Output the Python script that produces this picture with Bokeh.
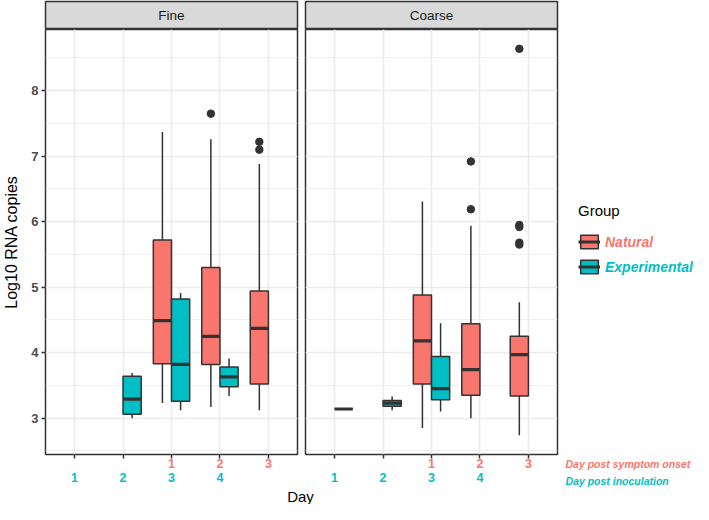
from bokeh.plotting import figure
from bokeh.models import (ColumnDataSource, FixedTicker, LinearAxis, Legend, LegendItem,
                          Label, Range1d)
from bokeh.transform import dodge
from bokeh.layouts import column, row
from bokeh.embed import file_html
from bokeh.resources import INLINE

# ---------------- data ----------------
panels = ["Fine", "Coarse"]
groups = ["Natural", "Experimental"]
x_positions = [1, 2, 3, 4, 5]
inoc_ticks = [1, 2, 3, 4]
inoc_labels = ["1", "2", "3", "4"]
onset_ticks = [3, 4, 5]
onset_labels = ["1", "2", "3"]
row_titles = ["Day post symptom onset", "Day post inoculation"]
y_ticks = [3, 4, 5, 6, 7, 8]
y_minor = [2.5, 3.5, 4.5, 5.5, 6.5, 7.5, 8.5]

# Fine - Natural
fine_nat_pos = [3, 4, 5]
fine_nat_low = [3.23, 3.17, 3.12]
fine_nat_q1 = [3.83, 3.82, 3.52]
fine_nat_med = [4.49, 4.25, 4.37]
fine_nat_q3 = [5.72, 5.30, 4.94]
fine_nat_high = [7.37, 7.26, 6.88]
# Fine - Experimental
fine_exp_pos = [2, 3, 4]
fine_exp_low = [3.00, 3.12, 3.34]
fine_exp_q1 = [3.06, 3.26, 3.48]
fine_exp_med = [3.29, 3.82, 3.63]
fine_exp_q3 = [3.64, 4.82, 3.78]
fine_exp_high = [3.69, 4.91, 3.91]
# Fine outliers (all Natural)
fine_out_pos = [4, 5, 5]
fine_out_val = [7.65, 7.22, 7.10]

# Coarse - Natural
coarse_nat_pos = [3, 4, 5]
coarse_nat_low = [2.85, 3.00, 2.74]
coarse_nat_q1 = [3.52, 3.35, 3.34]
coarse_nat_med = [4.18, 3.74, 3.97]
coarse_nat_q3 = [4.88, 4.44, 4.25]
coarse_nat_high = [6.31, 5.94, 4.77]
# Coarse - Experimental
coarse_exp_pos = [1, 2, 3]
coarse_exp_low = [3.14, 3.12, 3.10]
coarse_exp_q1 = [3.14, 3.18, 3.28]
coarse_exp_med = [3.14, 3.23, 3.45]
coarse_exp_q3 = [3.14, 3.27, 3.94]
coarse_exp_high = [3.14, 3.33, 4.45]
# Coarse outliers (all Natural)
coarse_out_pos = [4, 4, 5, 5, 5, 5, 5]
coarse_out_val = [6.92, 6.19, 8.64, 5.95, 5.92, 5.68, 5.65]

# ---------------- style ----------------
NAT = "#F8766D"
EXP = "#00BFC4"
DARK = "#333333"
GRID = "#EBEBEB"
FONT = "Liberation Sans"
DODGE = 0.1875
BOXW = 0.375
NAN = float("nan")

all_vals = (fine_nat_low + fine_nat_high + fine_exp_low + fine_exp_high + fine_out_val +
            coarse_nat_low + coarse_nat_high + coarse_exp_low + coarse_exp_high + coarse_out_val)
lo, hi = min(all_vals), max(all_vals)
pad = (hi - lo) * 0.05
Y0, Y1 = lo - pad, hi + pad
X0, X1 = min(x_positions) - 0.6, max(x_positions) + 0.6

# layout sizes
STRIP_H = 29
PANEL_H = 459
PANEL_BOTTOM = 34
DAY_H = 16
W1, MBL1, MBR1 = 301, 45, 4
W2, MBL2, MBR2 = 260, 4, 4
W3 = 132
TOTAL_H = STRIP_H + PANEL_H + DAY_H


def src(pos, low, q1, med, q3, high):
    return ColumnDataSource(dict(pos=pos, low=low, q1=q1, med=med, q3=q3, high=high))


def draw_group(p, s, off, color):
    xr = p.x_range
    p.segment(x0=dodge("pos", off, range=xr), x1=dodge("pos", off, range=xr),
              y0="q3", y1="high", source=s, line_color=DARK, line_width=1.5)
    p.segment(x0=dodge("pos", off, range=xr), x1=dodge("pos", off, range=xr),
              y0="q1", y1="low", source=s, line_color=DARK, line_width=1.5)
    p.vbar(x=dodge("pos", off, range=xr), width=BOXW, top="q3", bottom="q1", source=s,
           fill_color=color, line_color=DARK, line_width=1.5)
    p.segment(x0=dodge("pos", off - BOXW / 2, range=xr), x1=dodge("pos", off + BOXW / 2, range=xr),
              y0="med", y1="med", source=s, line_color=DARK, line_width=3.2)


def make_panel(nat, exp, out_pos, out_val, width, mbl, mbr, show_y):
    p = figure(width=width, height=PANEL_H, x_range=Range1d(X0, X1), y_range=Range1d(Y0, Y1),
               output_backend="svg", toolbar_location=None,
               min_border_left=mbl, min_border_right=mbr, min_border_top=0,
               min_border_bottom=PANEL_BOTTOM,
               outline_line_color=DARK, outline_line_width=1.5, background_fill_color="white")
    p.xgrid.ticker = FixedTicker(ticks=x_positions)
    p.xgrid.grid_line_color = GRID
    p.xgrid.grid_line_width = 1.6
    p.ygrid.ticker = FixedTicker(ticks=y_ticks, minor_ticks=y_minor)
    p.ygrid.grid_line_color = GRID
    p.ygrid.grid_line_width = 1.6
    p.ygrid.minor_grid_line_color = GRID
    p.ygrid.minor_grid_line_width = 0.8

    ya = p.yaxis[0]
    ya.ticker = FixedTicker(ticks=y_ticks)
    if show_y:
        ya.axis_line_color = None
        ya.major_tick_line_color = DARK
        ya.major_tick_line_width = 1.5
        ya.major_tick_out = 4
        ya.major_tick_in = 0
        ya.minor_tick_line_color = None
        ya.major_label_text_font = FONT
        ya.major_label_text_font_size = "13px"
        ya.major_label_text_font_style = "bold"
        ya.major_label_text_color = "#4D4D4D"
        ya.major_label_standoff = 3
        ya.axis_label = "Log10 RNA copies"
        ya.axis_label_text_font = FONT
        ya.axis_label_text_font_size = "16px"
        ya.axis_label_text_font_style = "normal"
        ya.axis_label_text_color = "black"
        ya.axis_label_standoff = 8
    else:
        ya.visible = False

    # x axis 1: day post symptom onset (red) with tick marks
    xa = p.xaxis[0]
    xa.ticker = FixedTicker(ticks=x_positions)
    overrides = {t: "" for t in x_positions}
    overrides.update({t: l for t, l in zip(onset_ticks, onset_labels)})
    xa.major_label_overrides = overrides
    xa.axis_line_color = None
    xa.major_tick_line_color = DARK
    xa.major_tick_line_width = 1.5
    xa.major_tick_out = 4
    xa.major_tick_in = 0
    xa.minor_tick_line_color = None
    xa.major_label_text_font = FONT
    xa.major_label_text_font_size = "12.5px"
    xa.major_label_text_font_style = "bold"
    xa.major_label_text_color = NAT
    xa.major_label_standoff = 0

    # x axis 2: day post inoculation (teal)
    xb = LinearAxis(ticker=FixedTicker(ticks=inoc_ticks),
                    major_label_overrides={t: l for t, l in zip(inoc_ticks, inoc_labels)})
    xb.axis_line_color = None
    xb.major_tick_line_color = None
    xb.minor_tick_line_color = None
    xb.major_tick_out = 0
    xb.major_tick_in = 0
    xb.major_label_text_font = FONT
    xb.major_label_text_font_size = "12.5px"
    xb.major_label_text_font_style = "bold"
    xb.major_label_text_color = EXP
    xb.major_label_standoff = 2
    p.add_layout(xb, "below")

    draw_group(p, nat, -DODGE, NAT)
    draw_group(p, exp, DODGE, EXP)
    p.scatter(x=dodge("pos", -DODGE, range=p.x_range), y="val",
              source=ColumnDataSource(dict(pos=out_pos, val=out_val)),
              size=7.5, fill_color=DARK, line_color=DARK)
    return p


def make_strip(name, width, mbl, mbr):
    s = figure(width=width, height=STRIP_H, x_range=Range1d(0, 1), y_range=Range1d(0, 1),
               x_axis_type=None, y_axis_type=None, output_backend="svg", toolbar_location=None,
               min_border_left=mbl, min_border_right=mbr, min_border_top=1, min_border_bottom=0,
               background_fill_color="#D9D9D9", outline_line_color=DARK, outline_line_width=1.5)
    s.add_layout(Label(x=0.5, y=0.5, text=name, text_align="center", text_baseline="middle",
                       text_font=FONT, text_font_size="13.5px", text_color="#1A1A1A"))
    return s


f1 = make_panel(src(fine_nat_pos, fine_nat_low, fine_nat_q1, fine_nat_med, fine_nat_q3, fine_nat_high),
                src(fine_exp_pos, fine_exp_low, fine_exp_q1, fine_exp_med, fine_exp_q3, fine_exp_high),
                fine_out_pos, fine_out_val, W1, MBL1, MBR1, True)
f2 = make_panel(src(coarse_nat_pos, coarse_nat_low, coarse_nat_q1, coarse_nat_med, coarse_nat_q3, coarse_nat_high),
                src(coarse_exp_pos, coarse_exp_low, coarse_exp_q1, coarse_exp_med, coarse_exp_q3, coarse_exp_high),
                coarse_out_pos, coarse_out_val, W2, MBL2, MBR2, False)

s1 = make_strip(panels[0], W1, MBL1, MBR1)
s2 = make_strip(panels[1], W2, MBL2, MBR2)

dayfig = figure(width=W1 + W2, height=DAY_H, x_range=Range1d(0, W1 + W2), y_range=Range1d(0, DAY_H),
                x_axis_type=None, y_axis_type=None, output_backend="svg", toolbar_location=None,
                min_border=0, outline_line_color=None)
dayfig.add_layout(Label(x=W1 - 1, y=DAY_H / 2, text="Day", text_align="center", text_baseline="middle",
                        text_font=FONT, text_font_size="15px", text_color="black"))

# right-hand area: legend + row titles
f3 = figure(width=W3, height=TOTAL_H, x_range=Range1d(0, W3), y_range=Range1d(0, TOTAL_H),
            x_axis_type=None, y_axis_type=None, output_backend="svg", toolbar_location=None,
            min_border=0, outline_line_color=None)
# legend proxies (no visible data)
proxy = ColumnDataSource(dict(x=[NAN], top=[NAN], bottom=[NAN]))
kb_nat = f3.vbar(x="x", top="top", bottom="bottom", width=1, source=proxy,
                 fill_color=NAT, line_color=DARK, line_width=1.5)
km_nat = f3.segment(x0="x", x1="x", y0="top", y1="top", source=proxy, line_color=DARK, line_width=3)
kb_exp = f3.vbar(x="x", top="top", bottom="bottom", width=1, source=proxy,
                 fill_color=EXP, line_color=DARK, line_width=1.5)
km_exp = f3.segment(x0="x", x1="x", y0="top", y1="top", source=proxy, line_color=DARK, line_width=3)

common = dict(padding=0, margin=0, border_line_color=None, background_fill_alpha=0,
              glyph_width=22, glyph_height=17, label_standoff=5, label_height=17,
              label_text_font=FONT, label_text_font_size="14px", label_text_font_style="bold italic")
leg1 = Legend(items=[LegendItem(label=groups[0], renderers=[kb_nat, km_nat])], title="Group",
              title_text_font=FONT, title_text_font_size="15px", title_text_font_style="normal",
              title_text_color="black", title_standoff=14,
              label_text_color=NAT, location=(17, TOTAL_H - 250), **common)
leg2 = Legend(items=[LegendItem(label=groups[1], renderers=[kb_exp, km_exp])],
              label_text_color=EXP, location=(17, TOTAL_H - 275), **common)
f3.add_layout(leg1, "center")
f3.add_layout(leg2, "center")

f3.add_layout(Label(x=4, y=TOTAL_H - 463, text=row_titles[0], text_baseline="middle",
                    text_font=FONT, text_font_size="10.5px", text_font_style="bold italic",
                    text_color=NAT))
f3.add_layout(Label(x=4, y=TOTAL_H - 480, text=row_titles[1], text_baseline="middle",
                    text_font=FONT, text_font_size="10.5px", text_font_style="bold italic",
                    text_color=EXP))

layout = row(column(row(s1, s2), row(f1, f2), dayfig), f3)
open("out.html", "w").write(file_html(layout, INLINE))
